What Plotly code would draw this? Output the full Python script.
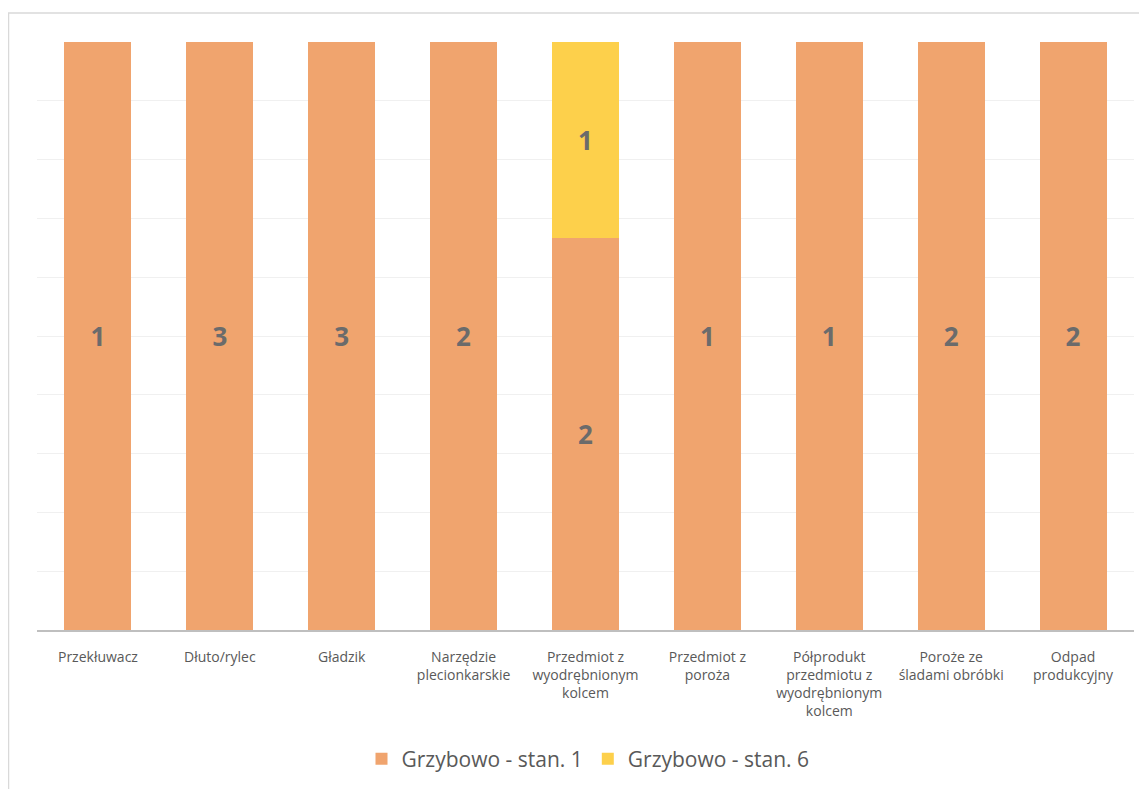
import plotly.graph_objects as go

categories = [
    "Przekłuwacz",
    "Dłuto/rylec",
    "Gładzik",
    "Narzędzie<br>plecionkarskie",
    "Przedmiot z<br>wyodrębnionym<br>kolcem",
    "Przedmiot z<br>poroża",
    "Półprodukt<br>przedmiotu z<br>wyodrębnionym<br>kolcem",
    "Poroże ze<br>śladami obróbki",
    "Odpad<br>produkcyjny",
]
stan1 = [1, 3, 3, 2, 2, 1, 1, 2, 2]
stan6 = [0, 0, 0, 0, 1, 0, 0, 0, 0]

series = [
    ("Grzybowo - stan. 1", stan1, "#F0A46E"),
    ("Grzybowo - stan. 6", stan6, "#FDD04B"),
]

fig = go.Figure()
for name, vals, color in series:
    fig.add_trace(go.Bar(
        x=categories, y=vals, name=name,
        marker=dict(color=color, line=dict(width=0)),
        text=[str(v) if v else "" for v in vals],
        textposition="inside", insidetextanchor="middle",
        textangle=0, constraintext="none",
        textfont=dict(family="Open Sans", size=26, color="#6b6b6b", weight="bold"),
        hoverinfo="skip",
    ))

# page is drawn with an 8px body offset
OFF = 8
W, H = 1147 - OFF, 789 - OFF
L, T = 37 - OFF, 42 - OFF
R = W - (1134 - OFF)
B = H - (630 - OFF)
pw, ph = W - L - R, H - T - B
axis_y = 630 - OFF

fig.update_layout(
    width=W, height=H,
    margin=dict(l=L, r=R, t=T, b=B, autoexpand=False),
    barmode="stack", barnorm="fraction", bargap=0.45,
    plot_bgcolor="white", paper_bgcolor="white",
    font=dict(family="Open Sans", color="#595959"),
    showlegend=True,
    legend=dict(orientation="h", x=(588 - OFF - L) / pw, xanchor="center",
                y=(axis_y - (759 - OFF)) / ph, yanchor="middle",
                font=dict(size=21, color="#595959"), itemwidth=30, traceorder="normal"),
    xaxis=dict(showline=True, linecolor="#BFBFBF", linewidth=2, ticks="", automargin=False,
               tickfont=dict(size=14, color="#595959"), ticklabelstandoff=13, fixedrange=True),
    yaxis=dict(range=[0, 1], dtick=0.1, showticklabels=False, showgrid=True, automargin=False,
               gridcolor="#F0F0F0", gridwidth=1, zeroline=False, showline=False, fixedrange=True),
    shapes=[dict(type="rect", xref="paper", yref="paper",
                 x0=(0.5 - L) / pw, x1=(W + 5 - L) / pw,
                 y0=(axis_y - (H + 5)) / ph, y1=(axis_y - (13 - OFF)) / ph,
                 line=dict(color="#D9D9D9", width=1.5), fillcolor="rgba(0,0,0,0)", layer="below")],
)

fig.write_html("out.html")
